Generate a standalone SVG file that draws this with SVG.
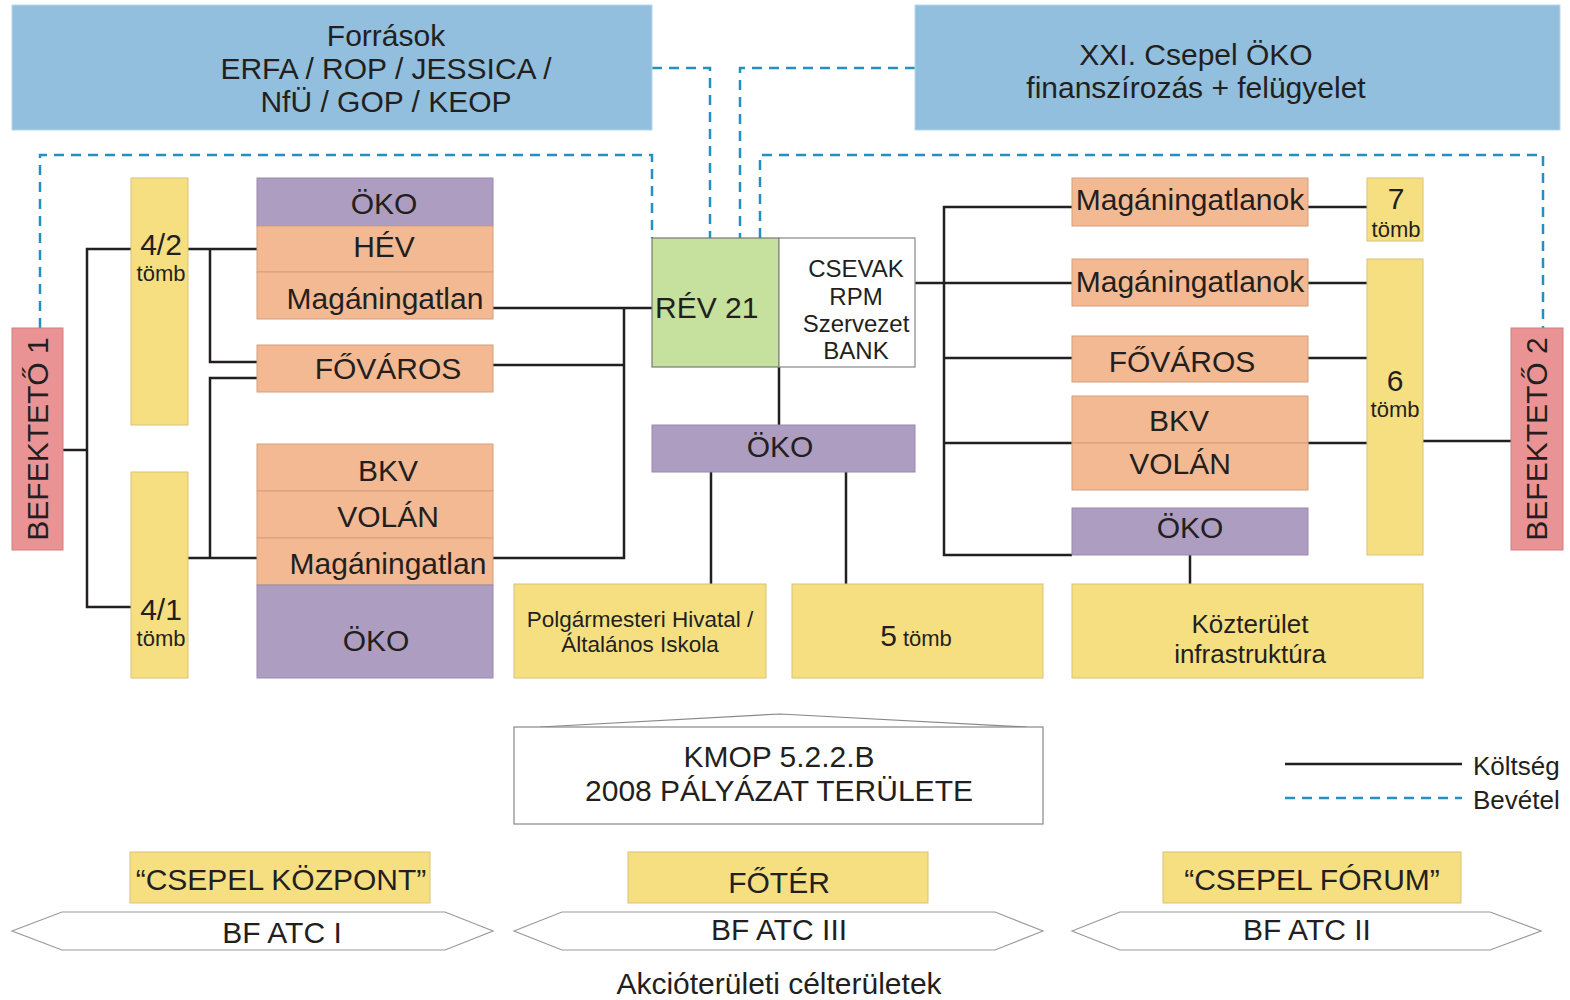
<svg xmlns="http://www.w3.org/2000/svg" width="1570" height="1000" viewBox="0 0 1570 1000">
<style>
text{font-family:"Liberation Sans",Arial,sans-serif;fill:#231f20}
.m{text-anchor:middle}
.blue{fill:#91bfdd;stroke:#b9d6ea;stroke-width:1}
.yel{fill:#f6df80;stroke:#d9c27a;stroke-width:1}
.sal{fill:#f2b992;stroke:#d59f7e;stroke-width:1}
.pur{fill:#ad9dc1;stroke:#9a8aad;stroke-width:1}
.pink{fill:#e99394;stroke:#d27f80;stroke-width:1}
.grn{fill:#c6e09e;stroke:#777;stroke-width:1.2}
.wht{fill:#fff;stroke:#888;stroke-width:1.2}
.hex{fill:#fff;stroke:#999;stroke-width:1.2}
.c{fill:none;stroke:#231f20;stroke-width:2.5}
.d{fill:none;stroke:#2590c0;stroke-width:2.5;stroke-dasharray:10 7}
.f28{font-size:30px}
.f22{font-size:22.5px}
.f20{font-size:22px}
.f24{font-size:24px}
.f26{font-size:26px}
</style>

<g id="connectors">
  <path class="d" d="M652,68 H710 V238"/>
  <path class="d" d="M915,68 H740 V238"/>
  <path class="d" d="M40,328 V155 H652 V238"/>
  <path class="d" d="M760,238 V155 H1543 V328"/>
  <path class="c" d="M63,450 H87"/>
  <path class="c" d="M131,249 H87 V607 H131"/>
  <path class="c" d="M188,249 H257"/>
  <path class="c" d="M210,249 V362 H257"/>
  <path class="c" d="M188,558 H257"/>
  <path class="c" d="M210,558 V378 H257"/>
  <path class="c" d="M493,308 H652"/>
  <path class="c" d="M493,365 H624"/>
  <path class="c" d="M493,558 H624 V308"/>
  <path class="c" d="M779,367 V425"/>
  <path class="c" d="M711,472 V584"/>
  <path class="c" d="M846,472 V584"/>
  <path class="c" d="M915,283 H1072"/>
  <path class="c" d="M1072,207 H944 V555 H1072"/>
  <path class="c" d="M944,358 H1072"/>
  <path class="c" d="M944,443 H1072"/>
  <path class="c" d="M1308,207 H1367"/>
  <path class="c" d="M1308,283 H1367"/>
  <path class="c" d="M1308,358 H1367"/>
  <path class="c" d="M1308,443 H1367"/>
  <path class="c" d="M1423,441 H1512"/>
  <path class="c" d="M1190,555 V584"/>
</g>

<g id="forrasok">
  <rect class="blue" x="12" y="5" width="640" height="125"/>
  <text class="m f28" x="386" y="46">Források</text>
  <text class="m f28" x="386" y="79">ERFA / ROP / JESSICA /</text>
  <text class="m f28" x="386" y="112">NfÜ / GOP / KEOP</text>
</g>
<g id="xxi">
  <rect class="blue" x="915" y="5" width="645" height="125"/>
  <text class="m f28" x="1196" y="65">XXI. Csepel ÖKO</text>
  <text class="m f28" x="1196" y="98">finanszírozás + felügyelet</text>
</g>

<g id="befekteto1">
  <rect class="pink" x="12" y="328" width="51" height="222"/>
  <text class="m f28" transform="translate(48,439) rotate(-90)">BEFEKTETŐ 1</text>
</g>
<g id="befekteto2">
  <rect class="pink" x="1511" y="328" width="52" height="222"/>
  <text class="m f28" transform="translate(1547,439) rotate(-90)">BEFEKTETŐ 2</text>
</g>

<g id="tomb42">
  <rect class="yel" x="131" y="178" width="57" height="247"/>
  <text class="m f28" x="161" y="255">4/2</text>
  <text class="m f20" x="161" y="281">tömb</text>
</g>
<g id="tomb41">
  <rect class="yel" x="131" y="472" width="57" height="206"/>
  <text class="m f28" x="161" y="620">4/1</text>
  <text class="m f20" x="161" y="646">tömb</text>
</g>

<g id="left-top-stack">
  <rect class="pur" x="257" y="178" width="236" height="48"/>
  <rect class="sal" x="257" y="226" width="236" height="46"/>
  <rect class="sal" x="257" y="272" width="236" height="47"/>
  <text class="m f28" x="384" y="214">ÖKO</text>
  <text class="m f28" x="384" y="257">HÉV</text>
  <text class="m f28" x="385" y="309">Magáningatlan</text>
</g>
<g id="left-fovaros">
  <rect class="sal" x="257" y="345" width="236" height="47"/>
  <text class="m f28" x="388" y="379">FŐVÁROS</text>
</g>
<g id="left-bottom-stack">
  <rect class="sal" x="257" y="444" width="236" height="47"/>
  <rect class="sal" x="257" y="491" width="236" height="47"/>
  <rect class="sal" x="257" y="538" width="236" height="47"/>
  <rect class="pur" x="257" y="585" width="236" height="93"/>
  <text class="m f28" x="388" y="481">BKV</text>
  <text class="m f28" x="388" y="527">VOLÁN</text>
  <text class="m f28" x="388" y="574">Magáningatlan</text>
  <text class="m f28" x="376" y="651">ÖKO</text>
</g>

<g id="rev21">
  <rect class="grn" x="652" y="238" width="127" height="129"/>
  <text class="f28" x="655" y="318">RÉV 21</text>
</g>
<g id="csevak">
  <rect class="wht" x="779" y="238" width="136" height="129"/>
  <text class="m f24" x="856" y="277">CSEVAK</text>
  <text class="m f24" x="856" y="305">RPM</text>
  <text class="m f24" x="856" y="332">Szervezet</text>
  <text class="m f24" x="856" y="359">BANK</text>
</g>
<g id="oko-mid">
  <rect class="pur" x="652" y="425" width="263" height="47"/>
  <text class="m f28" x="780" y="457">ÖKO</text>
</g>
<g id="polgarmesteri">
  <rect class="yel" x="514" y="584" width="252" height="94"/>
  <text class="m f22" x="640" y="627">Polgármesteri Hivatal /</text>
  <text class="m f22" x="640" y="652">Általános Iskola</text>
</g>
<g id="tomb5">
  <rect class="yel" x="792" y="584" width="251" height="94"/>
  <text class="m" x="916" y="646"><tspan font-size="30">5</tspan><tspan font-size="22"> tömb</tspan></text>
</g>

<g id="r-magan1">
  <rect class="sal" x="1072" y="178" width="236" height="48"/>
  <text class="m f28" x="1190" y="210">Magáningatlanok</text>
</g>
<g id="r-magan2">
  <rect class="sal" x="1072" y="259" width="236" height="47"/>
  <text class="m f28" x="1190" y="292">Magáningatlanok</text>
</g>
<g id="r-fovaros">
  <rect class="sal" x="1072" y="336" width="236" height="46"/>
  <text class="m f28" x="1182" y="372">FŐVÁROS</text>
</g>
<g id="r-bkv-volan">
  <rect class="sal" x="1072" y="396" width="236" height="47"/>
  <rect class="sal" x="1072" y="443" width="236" height="47"/>
  <text class="m f28" x="1179" y="431">BKV</text>
  <text class="m f28" x="1180" y="474">VOLÁN</text>
</g>
<g id="r-oko">
  <rect class="pur" x="1072" y="508" width="236" height="47"/>
  <text class="m f28" x="1190" y="538">ÖKO</text>
</g>
<g id="tomb7">
  <rect class="yel" x="1367" y="178" width="56" height="63"/>
  <text class="m f28" x="1396" y="209">7</text>
  <text class="m f20" x="1396" y="237">tömb</text>
</g>
<g id="tomb6">
  <rect class="yel" x="1367" y="259" width="56" height="296"/>
  <text class="m f28" x="1395" y="391">6</text>
  <text class="m f20" x="1395" y="417">tömb</text>
</g>
<g id="kozterulet">
  <rect class="yel" x="1072" y="584" width="351" height="94"/>
  <text class="m f26" x="1250" y="633">Közterület</text>
  <text class="m f26" x="1250" y="663">infrastruktúra</text>
</g>

<g id="kmop">
  <path fill="none" stroke="#888" stroke-width="1.2" d="M540,727 L780,714 L1027,727"/>
  <rect class="wht" x="514" y="727" width="529" height="97"/>
  <text class="m f28" x="779" y="767">KMOP 5.2.2.B</text>
  <text class="m f28" x="779" y="801">2008 PÁLYÁZAT TERÜLETE</text>
</g>

<g id="legend">
  <path class="c" d="M1285,764 H1462"/>
  <path class="d" d="M1285,798 H1462"/>
  <text class="f26" x="1473" y="775">Költség</text>
  <text class="f26" x="1473" y="809">Bevétel</text>
</g>

<g id="csepel-kozpont">
  <rect class="yel" x="130" y="852" width="300" height="51"/>
  <text class="m f28" x="281" y="890">“CSEPEL KÖZPONT”</text>
</g>
<g id="foter">
  <rect class="yel" x="628" y="852" width="300" height="51"/>
  <text class="m f28" x="779" y="893">FŐTÉR</text>
</g>
<g id="csepel-forum">
  <rect class="yel" x="1163" y="852" width="298" height="51"/>
  <text class="m f28" x="1312" y="890">“CSEPEL FÓRUM”</text>
</g>

<g id="bfatc1">
  <polygon class="hex" points="12,931 62,912 445,912 493,931 445,950 62,950"/>
  <text class="m f28" x="282" y="943">BF ATC I</text>
</g>
<g id="bfatc3">
  <polygon class="hex" points="514,931 562,912 995,912 1043,931 995,950 562,950"/>
  <text class="m f28" x="779" y="940">BF ATC III</text>
</g>
<g id="bfatc2">
  <polygon class="hex" points="1072,931 1120,912 1490,912 1541,931 1490,950 1120,950"/>
  <text class="m f28" x="1307" y="940">BF ATC II</text>
</g>

<text class="m f28" x="779" y="994">Akcióterületi célterületek</text>
</svg>
